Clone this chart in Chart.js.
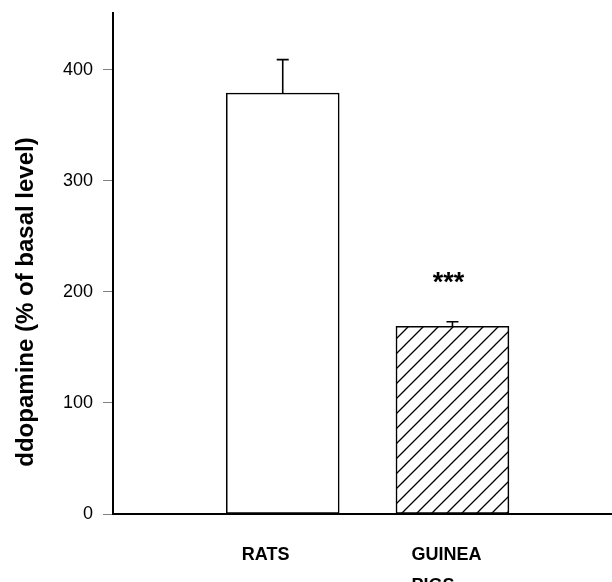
<!DOCTYPE html>
<html>
<head>
<meta charset="utf-8">
<script src="https://cdn.jsdelivr.net/npm/chart.js@4/dist/chart.umd.min.js"></script>
<style>
  html, body { margin: 0; padding: 0; background: #fff; }
  canvas { display: block; }
</style>
</head>
<body>
<canvas id="c" width="612" height="582"></canvas>
<script>
// ---- data ----
const categories = ['RATS', 'GUINEA PIGS'];
const meansPct = [379, 169];          // ddopamine, % of basal level
const semPct = [30, 4];               // upper error bar length
const significance = ['', '***'];
const yTickValues = [0, 100, 200, 300, 400];
const yTitle = 'ddopamine (% of basal level)';

const FONT = '"Liberation Sans", Arial, Helvetica, sans-serif';

// hatch pattern for the second bar
function makeHatch() {
  const s = 15;
  const c = document.createElement('canvas');
  c.width = s; c.height = s;
  const g = c.getContext('2d');
  g.fillStyle = '#fff';
  g.fillRect(0, 0, s, s);
  g.strokeStyle = '#000';
  g.lineWidth = 1.3;
  g.beginPath();
  g.moveTo(-1, s + 1); g.lineTo(s + 1, -1);
  g.moveTo(-1, 1); g.lineTo(1, -1);
  g.moveTo(s - 1, s + 1); g.lineTo(s + 1, s - 1);
  g.stroke();
  return document.getElementById('c').getContext('2d').createPattern(c, 'repeat');
}
const hatch = makeHatch();
const fills = ['#ffffff', hatch];

const errorBars = {
  id: 'errorBars',
  afterDatasetsDraw(chart) {
    const ctx = chart.ctx;
    const y = chart.scales.y;
    const meta = chart.getDatasetMeta(0);
    meta.data.forEach((bar, i) => {
      const top = y.getPixelForValue(meansPct[i] + semPct[i]);
      ctx.save();
      ctx.strokeStyle = '#000';
      ctx.lineWidth = 1.6;
      ctx.beginPath();
      ctx.moveTo(bar.x, bar.y);
      ctx.lineTo(bar.x, top);
      ctx.moveTo(bar.x - 6, top);
      ctx.lineTo(bar.x + 6, top);
      ctx.stroke();
      if (significance[i]) {
        ctx.fillStyle = '#000';
        ctx.font = 'bold 27px ' + FONT;
        ctx.textAlign = 'center';
        ctx.textBaseline = 'middle';
        ctx.fillText(significance[i], bar.x - 4, top - 38);
      }
      ctx.restore();
    });
  }
};

const yTitlePlugin = {
  id: 'yTitle',
  afterDraw(chart) {
    const ctx = chart.ctx;
    ctx.save();
    ctx.translate(26, 302);
    ctx.rotate(-Math.PI / 2);
    ctx.fillStyle = '#000';
    ctx.font = 'bold 24px ' + FONT;
    ctx.textAlign = 'center';
    ctx.textBaseline = 'middle';
    ctx.fillText(yTitle, 0, 0);
    ctx.restore();
  }
};

new Chart(document.getElementById('c'), {
  type: 'bar',
  data: {
    datasets: [{
      data: meansPct.map((v, i) => ({ x: i + 1, y: v })),
      backgroundColor: fills,
      borderColor: '#000',
      borderWidth: 1.6,
      borderSkipped: false,
      barThickness: 113
    }]
  },
  plugins: [errorBars, yTitlePlugin],
  options: {
    responsive: false,
    animation: false,
    layout: { padding: { top: 13, right: 0, left: 0, bottom: 0 } },
    plugins: { legend: { display: false }, tooltip: { enabled: false } },
    scales: {
      x: {
        type: 'linear',
        min: 0,
        max: 2.94,
        offset: false,
        grid: { display: true, offset: false, drawOnChartArea: false, drawTicks: false },
        border: { display: true, color: '#000', width: 2 },
        afterFit(scale) { scale.height = 68; scale.paddingLeft = 0; scale.paddingRight = 0; },
        ticks: {
          stepSize: 1,
          includeBounds: false,
          autoSkip: false,
          maxRotation: 0,
          align: 'start',
          labelOffset: -41,
          padding: 25,
          color: '#000',
          font: { family: FONT, size: 18, weight: 'bold', lineHeight: 1.75 },
          callback(value) {
            const c = categories[value - 1];
            return c ? c.split(' ') : '';
          }
        }
      },
      y: {
        min: 0,
        max: 451,
        grid: { drawOnChartArea: false, tickLength: 10, color: '#808080', lineWidth: 1 },
        border: { display: true, color: '#000', width: 2 },
        afterFit(scale) { scale.width = 113; scale.paddingTop = 0; scale.paddingBottom = 0; },
        afterBuildTicks(scale) { scale.ticks = yTickValues.map(v => ({ value: v })); },
        ticks: {
          padding: 10,
          color: '#000',
          font: { family: FONT, size: 18 }
        }
      }
    }
  }
});
</script>
</body>
</html>
